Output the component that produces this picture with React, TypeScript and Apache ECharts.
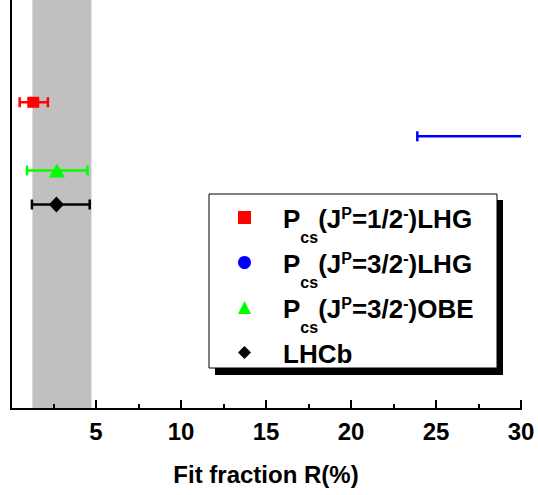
import React, { useEffect, useRef } from "react";
import * as echarts from "echarts";

// ---- data ----
const seriesNames = [
  "Pcs(JP=1/2-)LHG",
  "Pcs(JP=3/2-)LHG",
  "Pcs(JP=3/2-)OBE",
  "LHCb",
];
const richNames = [
  "{lead|P}{sub|cs}{n|(J}{sup|P}{n|=1/2}{sup|-}{n|)LHG}",
  "{lead|P}{sub|cs}{n|(J}{sup|P}{n|=3/2}{sup|-}{n|)LHG}",
  "{lead|P}{sub|cs}{n|(J}{sup|P}{n|=3/2}{sup|-}{n|)OBE}",
  "{lead|LHCb}",
];
const pointValues = [1.31, 33, 2.7, 2.67];
const lowerValues = [0.51, 23.9, 0.94, 1.23];
const upperValues = [2.17, 42, 4.5, 4.63];
const rowPositions = [9, 8, 7, 6];
const bandRange = [1.26, 4.73];
const xMin = 0;
const xMax = 30;
const xInterval = 5;
const yMin = 0;
const yMax = 12;
const xAxisName = "Fit fraction R(%)";

// ---- styles ----
const colors = ["#ff0000", "#0000ff", "#00ff00", "#000000"];
const symbols = ["rect", "circle", "triangle", "diamond"];
const symbolSizes: any[] = [[12, 11], [14, 14], [16, 14], [15, 16]];
const FONT = "'Liberation Sans', Arial, Helvetica, sans-serif";

export default function App() {
  const ref = useRef<HTMLDivElement>(null);
  useEffect(() => {
    if (!ref.current) return;
    const chart = echarts.init(ref.current, null, { renderer: "svg" });

    const scatterSeries = seriesNames.map((name, i) => ({
      type: "scatter",
      name,
      z: 4,
      clip: true,
      symbol: symbols[i],
      symbolSize: symbolSizes[i],
      itemStyle: { color: colors[i], opacity: 1 },
      data: [[pointValues[i], rowPositions[i]]],
      ...(i === 3
        ? {
            markArea: {
              silent: true,
              itemStyle: { color: "#c0c0c0" },
              data: [[{ xAxis: bandRange[0] }, { xAxis: bandRange[1] }]],
            },
          }
        : {}),
    }));

    const errData = seriesNames.map((_, i) => [
      lowerValues[i],
      upperValues[i],
      rowPositions[i],
      i,
    ]);

    const cap = 5;
    const lw = 2.5;
    const base = { fontFamily: FONT, fontWeight: "bold", color: "#000", lineHeight: 26, verticalAlign: "top" };

    const option: any = {
      animation: false,
      backgroundColor: "#ffffff",
      grid: { left: 11, right: 17, top: 0, bottom: 86 },
      xAxis: [
        {
          type: "value",
          min: xMin,
          max: xMax,
          interval: xInterval,
          z: 10,
          name: xAxisName,
          nameLocation: "middle",
          nameGap: 53,
          nameTextStyle: {
            fontFamily: FONT,
            fontWeight: "bold",
            fontSize: 24,
            color: "#000",
          },
          axisLine: { show: true, lineStyle: { color: "#000", width: 2 } },
          axisTick: {
            show: true,
            inside: true,
            length: 9,
            lineStyle: { color: "#000", width: 2 },
          },
          minorTick: {
            show: true,
            splitNumber: 2,
            length: 5,
            lineStyle: { color: "#000", width: 2 },
          },
          splitLine: { show: false },
          minorSplitLine: { show: false },
          axisLabel: {
            margin: 10,
            fontFamily: FONT,
            fontWeight: "bold",
            fontSize: 24,
            color: "#000",
            formatter: (v: number) => (v === 0 ? "" : String(v)),
          },
        },
        {
          type: "value",
          position: "top",
          min: xMin,
          max: xMax,
          z: 10,
          axisLine: { show: true, lineStyle: { color: "#000", width: 2 } },
          axisTick: { show: false },
          axisLabel: { show: false },
          splitLine: { show: false },
        },
      ],
      yAxis: [
        {
          type: "value",
          min: yMin,
          max: yMax,
          z: 10,
          axisLine: { show: true, lineStyle: { color: "#000", width: 2 } },
          axisTick: { show: false },
          axisLabel: { show: false },
          splitLine: { show: false },
        },
        {
          type: "value",
          position: "right",
          min: yMin,
          max: yMax,
          z: 10,
          axisLine: { show: true, lineStyle: { color: "#000", width: 2 } },
          axisTick: { show: false },
          axisLabel: { show: false },
          splitLine: { show: false },
        },
      ],
      legend: {
        orient: "vertical",
        left: 238,
        top: 204.5,
        padding: 0,
        z: 20,
        itemGap: 4,
        itemWidth: 13,
        itemHeight: 13,
        selectedMode: false,
        data: seriesNames.map((name, i) => ({
          name,
          icon: symbols[i],
          itemStyle: { color: colors[i] },
        })),
        formatter: (name: string) => richNames[seriesNames.indexOf(name)],
        textStyle: {
          fontFamily: FONT,
          fontWeight: "bold",
          fontSize: 26,
          color: "#000",
          rich: {
            lead: { ...base, fontSize: 26, padding: [1, 0, 0, 27] },
            n: { ...base, fontSize: 26, padding: [1, 0, 0, 0] },
            sup: { ...base, fontSize: 16, padding: [1, 0, 0, 0] },
            sub: { ...base, fontSize: 16, padding: [25, 0, 0, 0] },
          },
        },
      },
      graphic: [
        {
          type: "rect",
          z: 5,
          shape: { x: 215, y: 200, width: 288, height: 175 },
          style: { fill: "#000" },
        },
        {
          type: "rect",
          z: 6,
          shape: { x: 209, y: 194, width: 288, height: 174 },
          style: { fill: "#fff", stroke: "#000", lineWidth: 1 },
        },
      ],
      series: [
        {
          type: "custom",
          name: "errorbars",
          z: 3,
          clip: true,
          data: errData,
          encode: { x: [0, 1], y: 2 },
          renderItem: (params: any, api: any) => {
            const y = api.value(2);
            const lo = api.coord([api.value(0), y]);
            const hi = api.coord([api.value(1), y]);
            const c = colors[api.value(3)];
            const st = { stroke: c, lineWidth: lw };
            return {
              type: "group",
              children: [
                { type: "line", shape: { x1: lo[0], y1: lo[1], x2: hi[0], y2: hi[1] }, style: st },
                { type: "line", shape: { x1: lo[0], y1: lo[1] - cap, x2: lo[0], y2: lo[1] + cap }, style: st },
                { type: "line", shape: { x1: hi[0], y1: hi[1] - cap, x2: hi[0], y2: hi[1] + cap }, style: st },
              ],
            };
          },
        },
        ...scatterSeries,
      ],
    };
    chart.setOption(option);
    return () => chart.dispose();
  }, []);
  return (
    <div
      ref={ref}
      style={{ position: "absolute", left: 0, top: 0, width: 538, height: 495, background: "#fff" }}
    />
  );
}
